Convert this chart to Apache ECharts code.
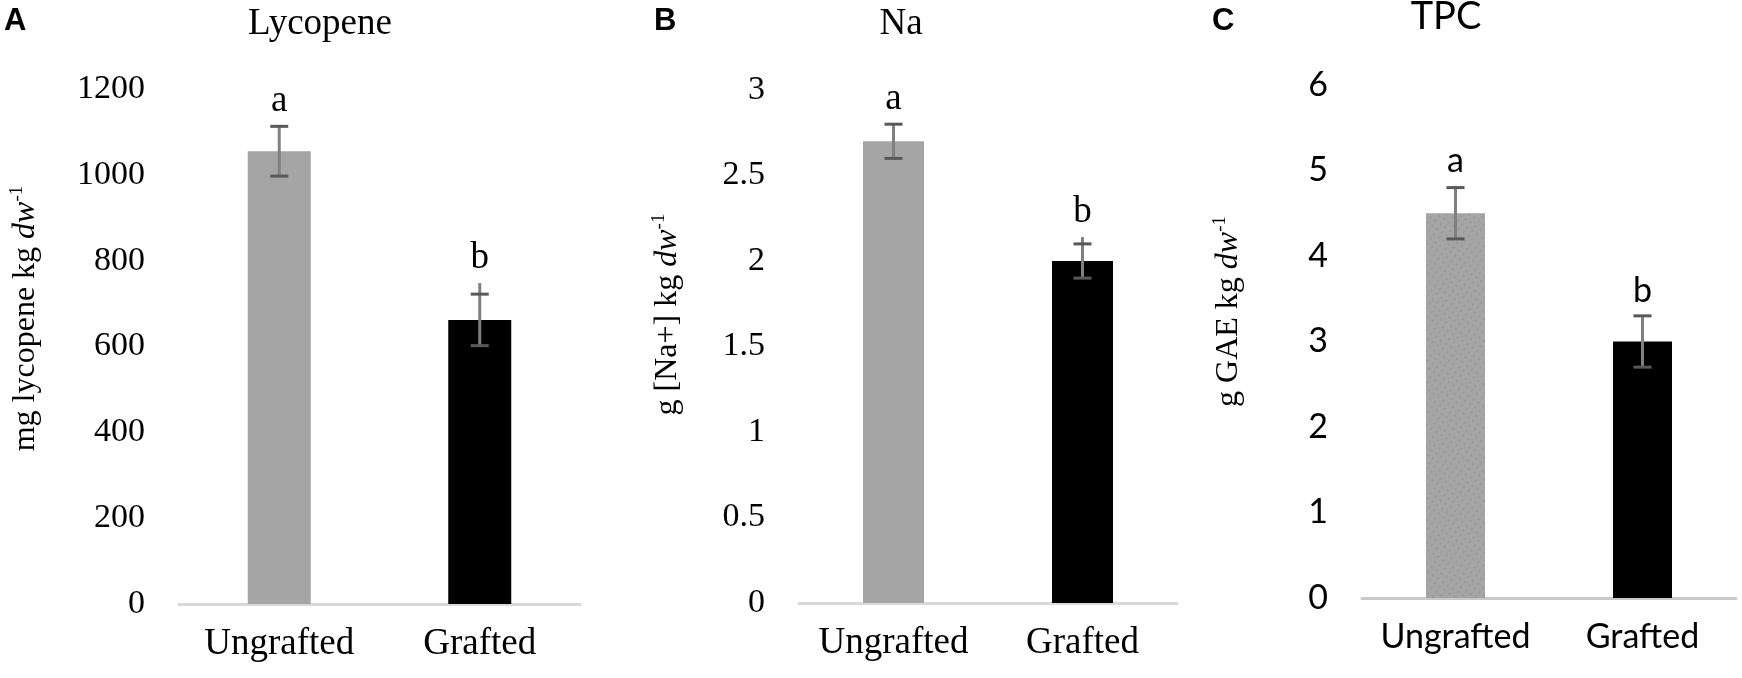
<!DOCTYPE html>
<html lang="en">
<head>
<meta charset="UTF-8">
<title>Lycopene, Na, TPC</title>
<style>
  html, body { margin: 0; padding: 0; background: #fff; }
  #chart { width: 1742px; height: 678px; }
</style>
</head>
<body>
<div id="chart"></div>
<script src="https://cdn.jsdelivr.net/npm/echarts/dist/echarts.min.js"></script>
<script>
// data
var categories = ['Ungrafted', 'Grafted'];

var lycopene = [1055, 662];
var lycopeneErr = [58, 60];
var lycopeneTip = [1114, 748];   // top of the whisker line (goes past the cap on Grafted)
var lycopeneSig = ['a', 'b'];

var sodium = [2.7, 2.0];
var sodiumErr = [0.1, 0.1];
var sodiumTip = [2.8, 2.14];
var sodiumSig = ['a', 'b'];

var tpc = [4.5, 3.0];
var tpcErr = [0.3, 0.3];
var tpcTip = [4.82, 3.3];
var tpcSig = ['a', 'b'];

var serif = "'Liberation Serif', 'Times New Roman', serif";
var sans = "Lato, 'Noto Sans', sans-serif";
var barColors = ['#a5a5a5', '#000000'];

var panels = [
    {
        letter: 'A', title: 'Lycopene', titleX: 320, titleY: 24, letterX: 4,
        values: lycopene, err: lycopeneErr, tip: lycopeneTip, sig: lycopeneSig,
        max: 1200, interval: 200, font: serif, tickSize: 34, catSize: 37, titleSize: 37,
        name: '{n|mg lycopene kg }{i|dw}{s|-1}', nameGap: 135, namePad: 56,
        grid: { left: 179, top: 89, width: 401, height: 515 }, barWidth: 63
    },
    {
        letter: 'B', title: 'Na', titleX: 901, titleY: 24, letterX: 654,
        values: sodium, err: sodiumErr, tip: sodiumTip, sig: sodiumSig,
        max: 3, interval: 0.5, font: serif, tickSize: 34, catSize: 37, titleSize: 37,
        name: '{n|g [Na+] kg }{i|dw}{s|-1}', nameGap: 113, namePad: 64,
        grid: { left: 799, top: 90, width: 378, height: 513 }, barWidth: 61
    },
    {
        letter: 'C', title: 'TPC', titleX: 1446, titleY: 17, letterX: 1212,
        values: tpc, err: tpcErr, tip: tpcTip, sig: tpcSig,
        max: 6, interval: 1, font: sans, tickSize: 34, catSize: 34, titleSize: 38,
        name: '{n|g GAE kg }{i|dw}{s|-1}', nameGap: 115, namePad: 60,
        grid: { left: 1362, top: 85, width: 374, height: 513 }, barWidth: 59,
        speckled: true
    }
];

function errorRender(p) {
    return function (params, api) {
        var i = api.value(0);
        var v = api.value(1);
        var e = api.value(2);
        var hi = api.coord([i, v + e]);
        var lo = api.coord([i, v - e]);
        var tip = api.coord([i, api.value(3)]);
        var cap = 9;
        return {
            type: 'group',
            children: [
                { type: 'line', shape: { x1: tip[0], y1: tip[1], x2: lo[0], y2: lo[1] },
                  style: { stroke: '#808080', lineWidth: 3 } },
                { type: 'line', shape: { x1: hi[0] - cap, y1: hi[1], x2: hi[0] + cap, y2: hi[1] },
                  style: { stroke: '#595959', lineWidth: 3 } },
                { type: 'line', shape: { x1: lo[0] - cap, y1: lo[1], x2: lo[0] + cap, y2: lo[1] },
                  style: { stroke: '#595959', lineWidth: 3 } },
                { type: 'text', x: tip[0], y: tip[1] - 25,
                  style: { text: p.sig[params.dataIndex], align: 'center', verticalAlign: 'middle',
                           fontFamily: p.font, fontSize: p.catSize, fill: '#000' } }
            ]
        };
    };
}

var option = {
    animation: false,
    grid: [],
    xAxis: [],
    yAxis: [],
    series: [],
    graphic: []
};

panels.forEach(function (p, k) {
    option.grid.push(p.grid);
    option.xAxis.push({
        type: 'category',
        gridIndex: k,
        data: categories,
        axisLine: { lineStyle: { color: k == 2 ? '#c8c8c8' : '#d9d9d9', width: 3 } },
        axisTick: { show: false },
        axisLabel: { interval: 0, color: '#000', fontFamily: p.font, fontSize: p.catSize, margin: 22 }
    });
    option.yAxis.push({
        type: 'value',
        gridIndex: k,
        min: 0,
        max: p.max,
        interval: p.interval,
        axisLine: { show: false },
        axisTick: { show: false },
        splitLine: { show: false },
        axisLabel: {
            color: '#000', fontFamily: p.font, fontSize: p.tickSize, margin: 34,
            formatter: function (v) { return String(v); }
        },
        name: p.name,
        nameLocation: 'middle',
        nameRotate: 90,
        nameGap: p.nameGap,
        nameTextStyle: {
            color: '#000',
            padding: [0, 0, 0, p.namePad],
            rich: {
                n: { fontFamily: serif, fontSize: 32, lineHeight: 36, color: '#000' },
                i: { fontFamily: serif, fontSize: 32, fontStyle: 'italic', lineHeight: 36, color: '#000' },
                s: { fontFamily: serif, fontSize: 19, verticalAlign: 'top', lineHeight: 36, color: '#000' }
            }
        }
    });
    option.series.push({
        type: 'bar',
        xAxisIndex: k,
        yAxisIndex: k,
        barWidth: p.barWidth,
        data: p.values.map(function (v, i) {
            var style = { color: barColors[i] };
            if (p.speckled && i == 0) {
                style.decal = {
                    symbol: 'circle', symbolSize: 0.6, color: 'rgba(140,140,140,0.7)',
                    dashArrayX: 3, dashArrayY: 3, rotation: 0.6
                };
            }
            return { value: v, itemStyle: style };
        })
    });
    option.series.push({
        type: 'custom',
        xAxisIndex: k,
        yAxisIndex: k,
        z: 5,
        renderItem: errorRender(p),
        encode: { x: 0, y: 1 },
        data: p.values.map(function (v, i) {
            return [i, v, p.err[i], p.tip[i]];
        })
    });
    option.graphic.push({
        type: 'text', left: p.letterX, top: 6,
        style: { text: p.letter, fontFamily: "'Liberation Sans', Arial, sans-serif",
                 fontWeight: 'bold', fontSize: 31, fill: '#000' }
    });
    option.graphic.push({
        type: 'text', x: p.titleX, y: p.titleY,
        style: { text: p.title, align: 'center', verticalAlign: 'middle',
                 fontFamily: p.font, fontSize: p.titleSize, fill: '#000' }
    });
});

var myChart = echarts.init(document.getElementById('chart'));
myChart.setOption(option);
</script>
</body>
</html>
